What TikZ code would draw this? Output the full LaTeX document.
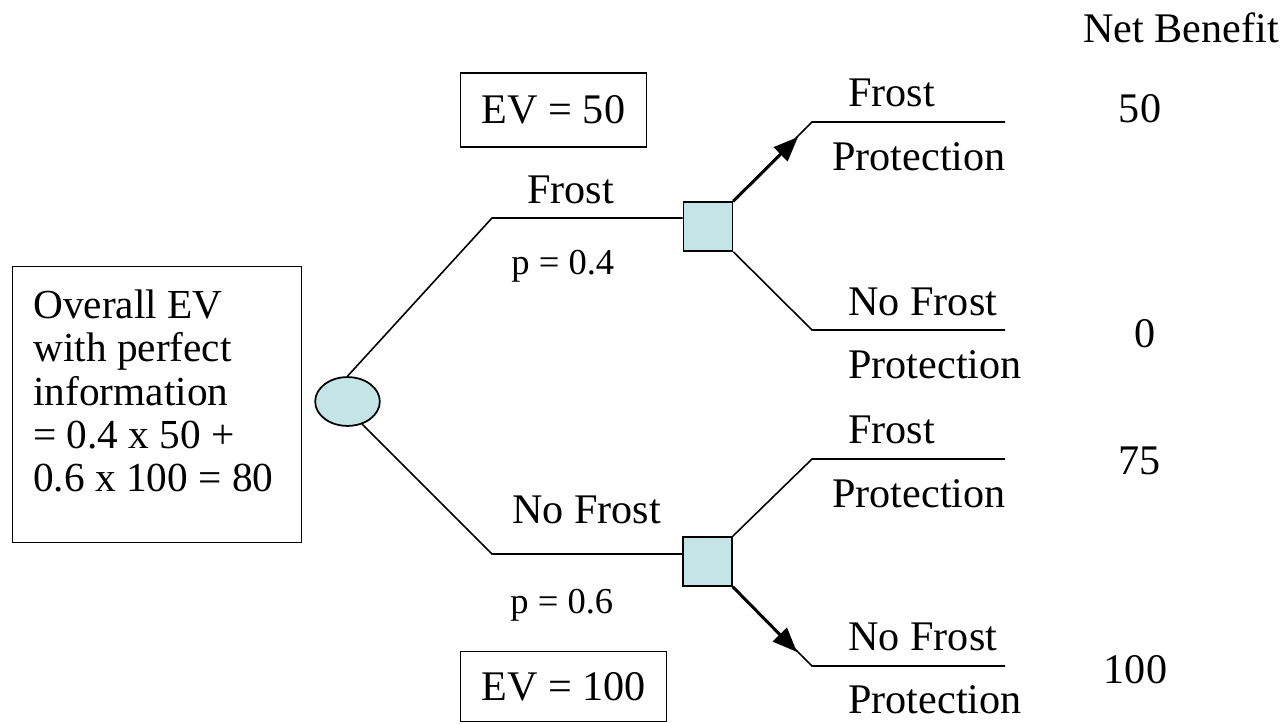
\documentclass[tikz,border=0pt]{standalone}
\usepackage{fontspec}
\setmainfont{Liberation Serif}
\usepackage{tikz}
\usetikzlibrary{
    arrows.meta,
    shapes.geometric
}
\definecolor{nodeblue}{RGB}{197,228,230}
\tikzset{
    % plain text of the tree
    lbl/.style={inner sep=0pt, font=\fontsize{24}{24.75}\selectfont},
    prob/.style={inner sep=0pt, font=\fontsize{20.8}{24}\selectfont},
    evbox/.style={draw, line width=0.7pt, inner sep=0pt, font=\fontsize{24}{24.75}\selectfont},
    chancenode/.style={ellipse, draw, line width=1pt, fill=nodeblue,
        minimum width=36.8pt, minimum height=27.8pt},
    decnode/.style={rectangle, draw, line width=1pt, fill=nodeblue,
        minimum size=27.8pt, inner sep=0pt},
    branch/.style={line width=0.9pt},
    % the best choice after each outcome
    choice/.style={line width=1.7pt, -{Triangle[length=14pt, width=11pt]}}
}

\begin{document}
\begin{tikzpicture}[x=0.02cm, y=-0.02cm]
    \useasboundingbox (0,0) rectangle (1287,723);
    \node (ovrbox) at (157,404.5)[evbox, minimum width=164.4pt, minimum height=157pt]{};
    \node (ovr) at (33,289.5)[inner sep=0pt, anchor=north west, align=left,
        font=\fontsize{23.5}{24.66}\selectfont]
        {Overall EV\\with perfect\\information\\= 0.4 x 50 +\\0.6 x 100 = 80};
    \node (ev1) at (553.5,110)[evbox, minimum width=106pt, minimum height=42pt]{EV = 50};
    \node (ev2) at (563.5,686.5)[evbox, minimum width=117.3pt, minimum height=40.2pt]{EV = 100};

    \node (chn) at (347.5,401.5)[chancenode]{};
    \node (dec1) at (708,226.5)[decnode]{};
    \node (dec2) at (707.5,561.5)[decnode]{};

    \coordinate (b1) at (492,218);
    \coordinate (b2) at (492,554);
    \coordinate (t1) at (812,122);
    \coordinate (t2) at (812,330);
    \coordinate (t3) at (812,459);
    \coordinate (t4) at (812,666);
    \coordinate (e1) at (1005,122);
    \coordinate (e2) at (1005,330);
    \coordinate (e3) at (1005,459);
    \coordinate (e4) at (1005,666);
    \coordinate (a1) at (798,137);
    \coordinate (a2) at (797,652);

    \begin{scope}[branch]
        \draw (chn.north) -- (b1) -- (b1 -| dec1.west);
        \draw (chn.-57) -- (b2) -- (b2 -| dec2.west);
        \draw (dec1.north east) -- (t1) -- (e1);
        \draw (dec1.south east) -- (t2) -- (e2);
        \draw (dec2.north east) -- (t3) -- (e3);
        \draw (dec2.south east) -- (t4) -- (e4);
    \end{scope}
    \draw[choice] (dec1.north east) -- (a1);
    \draw[choice] (dec2.south east) -- (a2);

    \node (fr) at (527,203)[lbl, anchor=base west]{Frost};
    \node (p1) at (511,274)[prob, anchor=base west]{p = 0.4};
    \node (nf) at (512,523)[lbl, anchor=base west]{No Frost};
    \node (p2) at (510,613)[prob, anchor=base west]{p = 0.6};

    \node (o1) at (848,107)[lbl, anchor=base west]{Frost};
    \node (a1p) at (832,170)[lbl, anchor=base west]{Protection};
    \node (o2) at (848,315)[lbl, anchor=base west]{No Frost};
    \node (a2p) at (848,378)[lbl, anchor=base west]{Protection};
    \node (o3) at (848,443)[lbl, anchor=base west]{Frost};
    \node (a3p) at (832,507)[lbl, anchor=base west]{Protection};
    \node (o4) at (848,650)[lbl, anchor=base west]{No Frost};
    \node (a4p) at (848,713)[lbl, anchor=base west]{Protection};

    \node (nb) at (1083,43)[lbl, anchor=base west]{Net Benefit};
    \node (n1) at (1140,122)[lbl, anchor=base]{50};
    \node (n2) at (1145,347)[lbl, anchor=base]{0};
    \node (n3) at (1139.5,474)[lbl, anchor=base]{75};
    \node (n4) at (1135.5,683)[lbl, anchor=base]{100};
\end{tikzpicture}
\end{document}
